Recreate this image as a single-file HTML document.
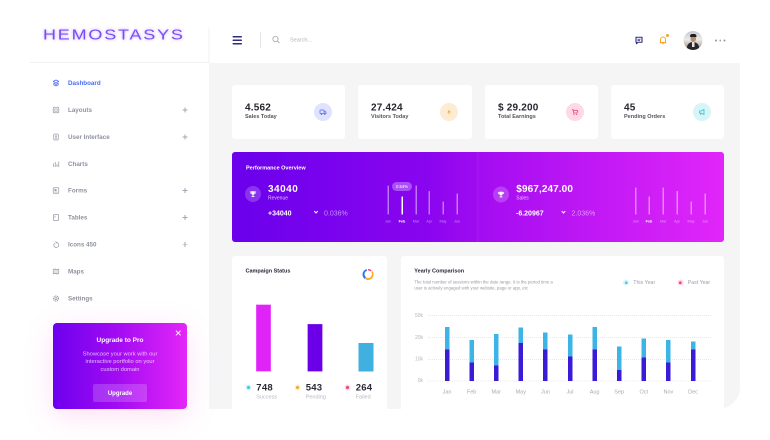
<!DOCTYPE html>
<html><head><meta charset="utf-8">
<style>
*{margin:0;padding:0;box-sizing:border-box}
html,body{width:770px;height:440px;overflow:hidden;background:#fff}
#w{position:absolute;left:0;top:0;width:1540px;height:880px;transform:scale(.5);transform-origin:0 0;font-family:"Liberation Sans",sans-serif}
.a{position:absolute}
.t{position:absolute;line-height:1;white-space:nowrap}
.b{font-weight:bold}
.card{position:absolute;background:#fff;border-radius:6px}
.nav{position:absolute;left:136px;font-size:12.5px;font-weight:bold;color:#8f92a1;line-height:1;white-space:nowrap}
.plus{position:absolute;left:365px;width:10px;height:10px}
.plus:before{content:"";position:absolute;left:0;top:4px;width:10px;height:1.8px;background:#a4a6b2}
.plus:after{content:"";position:absolute;left:4.1px;top:0;width:1.8px;height:10px;background:#a4a6b2}
.sv{position:absolute}
.val{position:absolute;font-size:20px;font-weight:bold;color:#25252f;letter-spacing:.4px;line-height:1;white-space:nowrap;top:205px}
.lab{position:absolute;font-size:11px;font-weight:bold;color:#55555f;line-height:1;white-space:nowrap;top:227.6px}
.ic{position:absolute;width:36px;height:36px;border-radius:50%;top:206px}
.mb{position:absolute;width:3px;background:rgba(255,255,255,.45);border-radius:1px}
.ml{position:absolute;width:30px;text-align:center;font-size:7.5px;color:rgba(255,255,255,.5);line-height:1;top:439px}
.yl{position:absolute;left:806px;width:40px;text-align:right;font-size:10px;color:#b5b5bd;line-height:1}
.gl{position:absolute;left:856px;width:566px;height:0;border-top:2px dotted #e8e8ec}
.lt{position:absolute;width:9px;background:#3db4e6}
.dk{position:absolute;width:9px;background:#3a1cd8}
.mo{position:absolute;width:40px;text-align:center;font-size:11px;color:#a8a8b2;line-height:1;top:779.2px}
</style></head><body><div id="w">

<!-- gray content area -->
<div class="a" style="left:418px;top:126px;width:1062px;height:692px;background:#f5f5f6;border-bottom-right-radius:44px"></div>

<!-- header lines -->
<div class="a" style="left:417px;top:56px;width:2px;height:70px;background:#f0f0f2"></div>
<div class="a" style="left:60px;top:124px;width:358px;height:2px;background:#f0f0f2"></div>

<!-- logo -->
<div class="t" style="left:86px;top:54.6px;font-size:30px;letter-spacing:3px;color:#7b4cf2;transform:scaleX(1.2);transform-origin:0 0;text-shadow:0 0 6px rgba(140,90,255,.55)">HEMOSTASYS</div>

<!-- hamburger -->
<div class="a" style="left:465px;top:72px;width:19px;height:3px;background:#2d2c7c;border-radius:2px"></div>
<div class="a" style="left:465px;top:79px;width:19px;height:3px;background:#2d2c7c;border-radius:2px"></div>
<div class="a" style="left:465px;top:86px;width:19px;height:3px;background:#2d2c7c;border-radius:2px"></div>
<div class="a" style="left:520px;top:64px;width:2px;height:32px;background:#e6e6ea"></div>
<svg class="sv" style="left:544px;top:71px" width="18" height="18" viewBox="0 0 18 18"><circle cx="7" cy="7" r="5.3" fill="none" stroke="#b0b0b8" stroke-width="1.8"/><line x1="11" y1="11" x2="15" y2="15" stroke="#b0b0b8" stroke-width="1.8"/></svg>
<div class="t" style="left:580px;top:74.6px;font-size:11px;color:#b3b3b8">Search...</div>

<!-- header right icons -->
<svg class="sv" style="left:1269px;top:72px" width="18" height="18" viewBox="0 0 18 18"><path d="M3 2.5 H15 V12.5 H7 L4 15.5 V12.5 H3 Z" fill="none" stroke="#2d2c7c" stroke-width="2.2" stroke-linejoin="round"/><line x1="6" y1="6.5" x2="12" y2="6.5" stroke="#2d2c7c" stroke-width="1.6"/><line x1="6" y1="9.3" x2="11" y2="9.3" stroke="#2d2c7c" stroke-width="1.6"/></svg>
<svg class="sv" style="left:1317px;top:71px" width="18" height="18" viewBox="0 0 18 18"><path d="M4 14 V8 A5 5 0 0 1 14 8 V14 Z" fill="none" stroke="#f5a623" stroke-width="2"/><line x1="2.5" y1="14.5" x2="15.5" y2="14.5" stroke="#f5a623" stroke-width="2"/><line x1="7.5" y1="16.5" x2="10.5" y2="16.5" stroke="#f5a623" stroke-width="1.6"/></svg>
<div class="a" style="left:1332px;top:67.6px;width:6px;height:6px;border-radius:50%;background:#f5a623"></div>
<div class="a" style="left:1367px;top:62px;width:38px;height:38px;border-radius:50%;overflow:hidden;background:linear-gradient(180deg,#c3c8cd 0%,#ecebe8 45%,#9a8a78 100%)">
  <div class="a" style="left:7px;top:22px;width:24px;height:22px;border-radius:50% 50% 0 0;background:#26262b"></div>
  <div class="a" style="left:14px;top:8px;width:11px;height:14px;border-radius:50%;background:#b88a70"></div>
  <div class="a" style="left:13px;top:6px;width:13px;height:6px;border-radius:6px 6px 2px 2px;background:#1c1c20"></div>
  <div class="a" style="left:17px;top:22px;width:5px;height:10px;background:#e8e4e0"></div>
</div>
<div class="a" style="left:1430px;top:79px;width:3.5px;height:3.5px;border-radius:50%;background:#9a9aa4"></div>
<div class="a" style="left:1438.5px;top:79px;width:3.5px;height:3.5px;border-radius:50%;background:#9a9aa4"></div>
<div class="a" style="left:1447px;top:79px;width:3.5px;height:3.5px;border-radius:50%;background:#9a9aa4"></div>

<!-- sidebar -->
<svg class="sv" style="left:105px;top:159px" width="14" height="14" viewBox="0 0 14 14"><path d="M7 1 L12.5 3.8 L7 6.6 L1.5 3.8 Z" fill="none" stroke="#4a6cf7" stroke-width="1.6" stroke-linejoin="round"/><path d="M1.5 7 L7 9.8 L12.5 7" fill="none" stroke="#4a6cf7" stroke-width="1.6"/><path d="M1.5 10 L7 12.8 L12.5 10" fill="none" stroke="#4a6cf7" stroke-width="1.6"/></svg>
<div class="nav" style="top:159.9px;color:#4a6cf7">Dashboard</div>

<svg class="sv" style="left:105px;top:213px" width="14" height="14" viewBox="0 0 14 14"><rect x="1.5" y="1.5" width="11" height="11" rx="1.5" fill="none" stroke="#9a9cab" stroke-width="1.5"/><rect x="4.5" y="5" width="5" height="4.5" fill="none" stroke="#9a9cab" stroke-width="1.3"/></svg>
<div class="nav" style="top:213.9px">Layouts</div><div class="plus" style="top:215px"></div>

<svg class="sv" style="left:105px;top:267px" width="14" height="14" viewBox="0 0 14 14"><rect x="2.5" y="1" width="9" height="12" rx="2" fill="none" stroke="#9a9cab" stroke-width="1.5"/><circle cx="7" cy="6" r="1.6" fill="none" stroke="#9a9cab" stroke-width="1.2"/><line x1="5" y1="10" x2="9" y2="10" stroke="#9a9cab" stroke-width="1.2"/></svg>
<div class="nav" style="top:267.9px">User Interface</div><div class="plus" style="top:269px"></div>

<svg class="sv" style="left:105px;top:321px" width="14" height="14" viewBox="0 0 14 14"><line x1="2" y1="13" x2="2" y2="6" stroke="#9a9cab" stroke-width="1.5"/><line x1="5.5" y1="13" x2="5.5" y2="3" stroke="#9a9cab" stroke-width="1.5"/><line x1="9" y1="13" x2="9" y2="7" stroke="#9a9cab" stroke-width="1.5"/><line x1="12.5" y1="13" x2="12.5" y2="2" stroke="#9a9cab" stroke-width="1.5"/></svg>
<div class="nav" style="top:321.9px">Charts</div>

<svg class="sv" style="left:105px;top:374.4px" width="14" height="14" viewBox="0 0 14 14"><rect x="1.5" y="1.5" width="11" height="11" rx="1" fill="none" stroke="#9a9cab" stroke-width="1.5"/><rect x="4" y="4" width="4" height="4" fill="#9a9cab"/><line x1="4" y1="10" x2="10" y2="10" stroke="#9a9cab" stroke-width="1.2"/></svg>
<div class="nav" style="top:375.3px">Forms</div><div class="plus" style="top:376.4px"></div>

<svg class="sv" style="left:105px;top:428.4px" width="14" height="14" viewBox="0 0 14 14"><rect x="2" y="1" width="10" height="12" rx="1" fill="none" stroke="#9a9cab" stroke-width="1.5"/><line x1="5" y1="3.5" x2="5" y2="7.5" stroke="#9a9cab" stroke-width="1.4"/></svg>
<div class="nav" style="top:429.3px">Tables</div><div class="plus" style="top:430.4px"></div>

<svg class="sv" style="left:105px;top:481.6px" width="14" height="14" viewBox="0 0 14 14"><path d="M4 4.5 A5 5 0 1 0 8 3" fill="none" stroke="#9a9cab" stroke-width="1.5"/><path d="M6 1 L8.5 3 L6 5" fill="none" stroke="#9a9cab" stroke-width="1.4"/></svg>
<div class="nav" style="top:482.5px">Icons 450</div><div class="plus" style="top:483.6px"></div>

<svg class="sv" style="left:105px;top:535.6px" width="14" height="14" viewBox="0 0 14 14"><path d="M1.5 3 L5 2 L9 3.5 L12.5 2.5 V11 L9 12 L5 10.5 L1.5 11.5 Z" fill="none" stroke="#9a9cab" stroke-width="1.4" stroke-linejoin="round"/><line x1="5" y1="2" x2="5" y2="10.5" stroke="#9a9cab" stroke-width="1.2"/><line x1="9" y1="3.5" x2="9" y2="12" stroke="#9a9cab" stroke-width="1.2"/></svg>
<div class="nav" style="top:536.5px">Maps</div>

<svg class="sv" style="left:105px;top:589.6px" width="14" height="14" viewBox="0 0 14 14"><circle cx="7" cy="7" r="5" fill="none" stroke="#9a9cab" stroke-width="2.4" stroke-dasharray="2.2 1.4"/><circle cx="7" cy="7" r="2" fill="none" stroke="#9a9cab" stroke-width="1.4"/></svg>
<div class="nav" style="top:590.5px">Settings</div>

<!-- upgrade card -->
<div class="a" style="left:106px;top:646px;width:268px;height:172px;border-radius:8px;background:linear-gradient(90deg,#6c00ee 0%,#a50cf2 50%,#e426f8 100%);box-shadow:0 14px 60px rgba(245,100,200,.2)"></div>
<div class="a" style="left:350px;top:665px;width:13px;height:2px;background:#fff;transform:rotate(45deg)"></div>
<div class="a" style="left:350px;top:665px;width:13px;height:2px;background:#fff;transform:rotate(-45deg)"></div>
<div class="t b" style="left:140px;width:200px;text-align:center;top:673px;font-size:13px;color:#fff">Upgrade to Pro</div>
<div class="a" style="left:120px;width:240px;text-align:center;top:700.7px;font-size:11.5px;line-height:15.4px;color:rgba(255,255,255,.72)">Showcase your work with our<br>interactive portfolio on your<br>custom domain</div>
<div class="a" style="left:186px;top:768px;width:108px;height:36px;border-radius:4px;background:rgba(255,255,255,.18);color:#fff;font-weight:bold;font-size:12px;line-height:36px;text-align:center">Upgrade</div>

<!-- stat cards -->
<div class="card" style="left:464px;top:170px;width:226px;height:108px"></div>
<div class="card" style="left:716px;top:170px;width:228px;height:108px"></div>
<div class="card" style="left:970px;top:170px;width:226px;height:108px"></div>
<div class="card" style="left:1222px;top:170px;width:226px;height:108px"></div>

<div class="val" style="left:490px">4.562</div><div class="lab" style="left:490px">Sales Today</div>
<div class="val" style="left:742px">27.424</div><div class="lab" style="left:742px">Visitors Today</div>
<div class="val" style="left:996px">$ 29.200</div><div class="lab" style="left:996px">Total Earnings</div>
<div class="val" style="left:1248px">45</div><div class="lab" style="left:1248px">Pending Orders</div>

<div class="ic" style="left:628px;background:#e0e3ff"></div>
<svg class="sv" style="left:639px;top:217px" width="14" height="14" viewBox="0 0 14 14"><rect x="1" y="3" width="8" height="7" rx="1" fill="none" stroke="#5a6cf0" stroke-width="1.6"/><path d="M9 5.5 H11.5 L13 8 V10 H9" fill="none" stroke="#5a6cf0" stroke-width="1.6"/><circle cx="4" cy="11.5" r="1.4" fill="#5a6cf0"/><circle cx="10.5" cy="11.5" r="1.4" fill="#5a6cf0"/></svg>
<div class="ic" style="left:880px;background:#fdebd3"></div>
<svg class="sv" style="left:891px;top:217px" width="14" height="14" viewBox="0 0 14 14"><path d="M8.5 1 L3.5 8 L7 8 L5.5 13 L10.5 5.8 L7 5.8 Z" fill="#f5a623"/></svg>
<div class="ic" style="left:1132px;background:#ffd9e6"></div>
<svg class="sv" style="left:1143px;top:217px" width="14" height="14" viewBox="0 0 14 14"><path d="M1 2 H3 L4.5 9 H11 L12.5 4 H4" fill="none" stroke="#f0407a" stroke-width="1.6" stroke-linejoin="round"/><circle cx="5" cy="11.8" r="1.2" fill="#f0407a"/><circle cx="10.5" cy="11.8" r="1.2" fill="#f0407a"/></svg>
<div class="ic" style="left:1386px;background:#d7f4f7"></div>
<svg class="sv" style="left:1397px;top:217px" width="14" height="14" viewBox="0 0 14 14"><path d="M2 5 H5 L11 2 V12 L5 9 H2 Z" fill="none" stroke="#35c2d6" stroke-width="1.6" stroke-linejoin="round"/><line x1="4" y1="9" x2="5" y2="13" stroke="#35c2d6" stroke-width="1.6"/></svg>

<!-- performance panel -->
<div class="a" style="left:464px;top:304px;width:984px;height:180px;border-radius:6px;background:linear-gradient(90deg,#6a00ec 0%,#8a05ef 40%,#a50df1 52%,#e126f9 100%)"></div>
<div class="a" style="left:955px;top:304px;width:2px;height:180px;background:rgba(255,255,255,.08)"></div>
<div class="t b" style="left:492px;top:330.6px;font-size:11px;color:#fff">Performance Overview</div>

<div class="a" style="left:490px;top:372px;width:32px;height:32px;border-radius:50%;background:rgba(255,255,255,.2)"></div>
<svg class="sv" style="left:499px;top:381px" width="14" height="14" viewBox="0 0 14 14"><path d="M3.5 1.5 H10.5 V5 A3.5 3.5 0 0 1 3.5 5 Z" fill="#fff"/><path d="M3.5 2.5 H1.5 V4 A2 2 0 0 0 3.5 6 M10.5 2.5 H12.5 V4 A2 2 0 0 1 10.5 6" fill="none" stroke="#fff" stroke-width="1.2"/><rect x="6.2" y="8" width="1.6" height="3" fill="#fff"/><rect x="4" y="11" width="6" height="1.8" rx=".5" fill="#fff"/></svg>
<div class="t b" style="left:536px;top:368.2px;font-size:20px;letter-spacing:1px;color:#fff">34040</div>
<div class="t" style="left:536px;top:391.7px;font-size:10px;color:rgba(255,255,255,.72)">Revenue</div>
<div class="t b" style="left:536px;top:419.1px;font-size:14px;color:#fff">+34040</div>
<div class="a" style="left:629px;top:420px;width:6px;height:6px;border-right:2px solid #fff;border-bottom:2px solid #fff;transform:rotate(45deg)"></div>
<div class="t" style="left:648px;top:419.1px;font-size:14px;color:rgba(255,255,255,.55)">0.036%</div>

<div class="mb" style="left:774.5px;top:371.4px;height:57.6px"></div>
<div class="mb" style="left:802.5px;top:393.4px;height:35.6px;background:#fff"></div>
<div class="mb" style="left:830.5px;top:371.4px;height:57.6px"></div>
<div class="mb" style="left:857px;top:382px;height:47px"></div>
<div class="mb" style="left:884.5px;top:403.4px;height:25.6px"></div>
<div class="mb" style="left:912.5px;top:387.4px;height:41.6px"></div>
<div class="a" style="left:784px;top:364px;width:40px;height:18px;border-radius:9px;background:rgba(255,255,255,.3);color:#fff;font-size:8.5px;line-height:18px;text-align:center">0.54%</div>
<div class="ml" style="left:761px">Jan</div>
<div class="ml" style="left:789px;color:#fff;font-weight:bold">Feb</div>
<div class="ml" style="left:817px">Mar</div>
<div class="ml" style="left:843.6px">Apr</div>
<div class="ml" style="left:871px">May</div>
<div class="ml" style="left:899px">Jun</div>

<div class="a" style="left:986px;top:372.6px;width:32px;height:32px;border-radius:50%;background:rgba(255,255,255,.2)"></div>
<svg class="sv" style="left:995px;top:381.6px" width="14" height="14" viewBox="0 0 14 14"><path d="M3.5 1.5 H10.5 V5 A3.5 3.5 0 0 1 3.5 5 Z" fill="#fff"/><path d="M3.5 2.5 H1.5 V4 A2 2 0 0 0 3.5 6 M10.5 2.5 H12.5 V4 A2 2 0 0 1 10.5 6" fill="none" stroke="#fff" stroke-width="1.2"/><rect x="6.2" y="8" width="1.6" height="3" fill="#fff"/><rect x="4" y="11" width="6" height="1.8" rx=".5" fill="#fff"/></svg>
<div class="t b" style="left:1032.6px;top:368.2px;font-size:20px;letter-spacing:.2px;color:#fff">$967,247.00</div>
<div class="t" style="left:1032.6px;top:391.7px;font-size:10px;color:rgba(255,255,255,.72)">Sales</div>
<div class="t b" style="left:1032px;top:419.1px;font-size:14px;color:#fff">-6.20967</div>
<div class="a" style="left:1124px;top:420px;width:6px;height:6px;border-right:2px solid #fff;border-bottom:2px solid #fff;transform:rotate(45deg)"></div>
<div class="t" style="left:1143px;top:419.1px;font-size:14px;color:rgba(255,255,255,.55)">2.036%</div>

<div class="mb" style="left:1269.9px;top:375.4px;height:53.6px"></div>
<div class="mb" style="left:1296.5px;top:393.4px;height:35.6px"></div>
<div class="mb" style="left:1325.1px;top:375.4px;height:53.6px"></div>
<div class="mb" style="left:1352.5px;top:382px;height:47px"></div>
<div class="mb" style="left:1380.5px;top:403.4px;height:25.6px"></div>
<div class="mb" style="left:1408.5px;top:387.4px;height:41.6px"></div>
<div class="ml" style="left:1256.4px">Jan</div>
<div class="ml" style="left:1283px;color:#fff;font-weight:bold">Feb</div>
<div class="ml" style="left:1311.6px">Mar</div>
<div class="ml" style="left:1339px">Apr</div>
<div class="ml" style="left:1367px">May</div>
<div class="ml" style="left:1395px">Jun</div>

<!-- campaign card -->
<div class="card" style="left:464px;top:512px;width:310px;height:320px"></div>
<div class="t b" style="left:491px;top:536.6px;font-size:11px;color:#26263a">Campaign Status</div>
<div class="a" style="left:725px;top:537.6px;width:22px;height:22px;border-radius:50%;background:conic-gradient(#ff3d7f 0 12%,#fff 12% 14%,#ffa81f 14% 58%,#fff 58% 60%,#3a6df0 60% 96%,#fff 96% 100%)"></div>
<div class="a" style="left:728.5px;top:541.1px;width:15px;height:15px;border-radius:50%;background:#fff"></div>

<div class="a" style="left:512px;top:608.6px;width:30px;height:134.8px;background:#e024f8;border:1px solid #ec6ffb"></div>
<div class="a" style="left:614.6px;top:648px;width:30px;height:95.4px;background:#6b00e8;border:1px solid #8a3df0"></div>
<div class="a" style="left:716.6px;top:686px;width:30px;height:57.4px;background:#3fb0e0"></div>

<div class="a" style="left:490.6px;top:768.6px;width:12px;height:12px;border-radius:50%;background:#d6f4f8"></div>
<div class="a" style="left:493.6px;top:771.6px;width:6px;height:6px;border-radius:50%;background:#3cc6d8"></div>
<div class="a" style="left:588.6px;top:768.6px;width:12px;height:12px;border-radius:50%;background:#feedd2"></div>
<div class="a" style="left:591.6px;top:771.6px;width:6px;height:6px;border-radius:50%;background:#f5a623"></div>
<div class="a" style="left:689.4px;top:768.6px;width:12px;height:12px;border-radius:50%;background:#fdd5e2"></div>
<div class="a" style="left:692.4px;top:771.6px;width:6px;height:6px;border-radius:50%;background:#f0407a"></div>
<div class="t b" style="left:512.6px;top:766.4px;font-size:19px;letter-spacing:.5px;color:#2a2a38">748</div>
<div class="t b" style="left:611.4px;top:766.4px;font-size:19px;letter-spacing:.5px;color:#2a2a38">543</div>
<div class="t b" style="left:711.4px;top:766.4px;font-size:19px;letter-spacing:.5px;color:#2a2a38">264</div>
<div class="t" style="left:512.6px;top:788.6px;font-size:11px;color:#b8b8c2">Success</div>
<div class="t" style="left:611.4px;top:788.6px;font-size:11px;color:#b8b8c2">Pending</div>
<div class="t" style="left:711.4px;top:788.6px;font-size:11px;color:#b8b8c2">Failed</div>

<!-- yearly card -->
<div class="card" style="left:802px;top:512px;width:646px;height:320px"></div>
<div class="t b" style="left:828.6px;top:536.6px;font-size:11px;color:#26263a">Yearly Comparison</div>
<div class="a" style="left:828.6px;top:558.4px;font-size:8.6px;line-height:12px;color:#9a9aa5;white-space:nowrap">The total number of sessions within the date range. It is the period time a<br>user is actively engaged with your website, page or app, etc</div>
<div class="a" style="left:1246px;top:559.4px;width:12px;height:12px;border-radius:50%;background:#d6f4f8"></div>
<div class="a" style="left:1249.5px;top:562.9px;width:5px;height:5px;border-radius:50%;background:#3cc8dc"></div>
<div class="t" style="left:1266.6px;top:560.3px;font-size:10.5px;color:#9d9daa">This Year</div>
<div class="a" style="left:1354.6px;top:559.4px;width:12px;height:12px;border-radius:50%;background:#fdd5e0"></div>
<div class="a" style="left:1358.1px;top:562.9px;width:5px;height:5px;border-radius:50%;background:#f0306a"></div>
<div class="t" style="left:1375.4px;top:560.3px;font-size:10.5px;color:#9d9daa">Past Year</div>

<div class="gl" style="top:630.4px"></div>
<div class="gl" style="top:674.4px"></div>
<div class="gl" style="top:717.6px"></div>
<div class="gl" style="top:761px"></div>
<div class="yl" style="top:626.5px">50k</div>
<div class="yl" style="top:670.5px">20k</div>
<div class="yl" style="top:713.7px">10k</div>
<div class="yl" style="top:757.1px">0k</div>

<div class="lt" style="left:889.5px;top:654px;height:45.4px"></div><div class="dk" style="left:889.5px;top:699.4px;height:62.6px"></div>
<div class="lt" style="left:938.7px;top:680px;height:45.4px"></div><div class="dk" style="left:938.7px;top:725.4px;height:36.6px"></div>
<div class="lt" style="left:987.9px;top:668px;height:62.6px"></div><div class="dk" style="left:987.9px;top:730.6px;height:31.4px"></div>
<div class="lt" style="left:1037.1px;top:655.4px;height:30.6px"></div><div class="dk" style="left:1037.1px;top:686px;height:76px"></div>
<div class="lt" style="left:1086.3px;top:665.4px;height:34px"></div><div class="dk" style="left:1086.3px;top:699.4px;height:62.6px"></div>
<div class="lt" style="left:1135.5px;top:669.4px;height:44px"></div><div class="dk" style="left:1135.5px;top:713.4px;height:48.6px"></div>
<div class="lt" style="left:1184.7px;top:654px;height:45.4px"></div><div class="dk" style="left:1184.7px;top:699.4px;height:62.6px"></div>
<div class="lt" style="left:1233.9px;top:693px;height:46.6px"></div><div class="dk" style="left:1233.9px;top:739.6px;height:22.4px"></div>
<div class="lt" style="left:1283.1px;top:676.6px;height:38.8px"></div><div class="dk" style="left:1283.1px;top:715.4px;height:46.6px"></div>
<div class="lt" style="left:1332.3px;top:680px;height:45.4px"></div><div class="dk" style="left:1332.3px;top:725.4px;height:36.6px"></div>
<div class="lt" style="left:1381.5px;top:683.4px;height:16px"></div><div class="dk" style="left:1381.5px;top:699.4px;height:62.6px"></div>

<div class="mo" style="left:874px">Jan</div>
<div class="mo" style="left:923.2px">Feb</div>
<div class="mo" style="left:972.4px">Mar</div>
<div class="mo" style="left:1021.6px">May</div>
<div class="mo" style="left:1070.8px">Jun</div>
<div class="mo" style="left:1120px">Jul</div>
<div class="mo" style="left:1169.2px">Aug</div>
<div class="mo" style="left:1218.4px">Sep</div>
<div class="mo" style="left:1267.6px">Oct</div>
<div class="mo" style="left:1316.8px">Nov</div>
<div class="mo" style="left:1366px">Dec</div>

</div></body></html>
